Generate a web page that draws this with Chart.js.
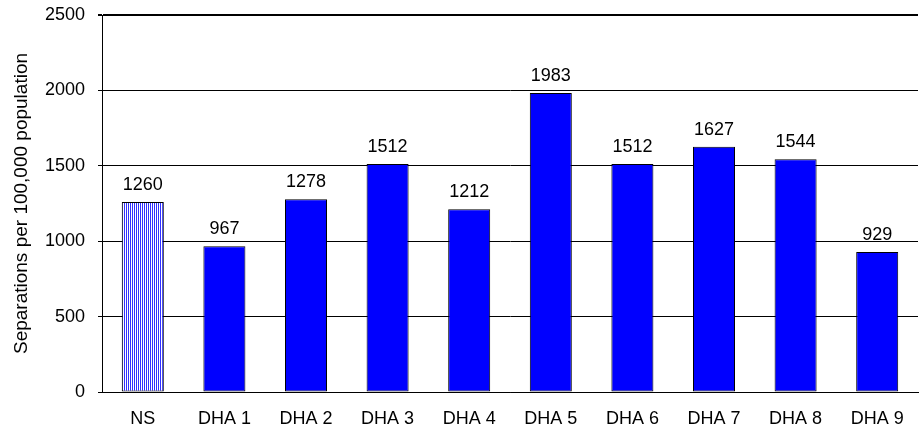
<!DOCTYPE html>
<html><head><meta charset="utf-8">
<script src="https://cdn.jsdelivr.net/npm/chart.js@4/dist/chart.umd.min.js"></script>
<style>html,body{margin:0;padding:0;background:#fff}#wrap{width:920px;height:435px}</style>
</head><body><div id="wrap"><canvas id="c" width="920" height="435"></canvas></div>
<script>
const categories = ['NS', 'DHA 1', 'DHA 2', 'DHA 3', 'DHA 4', 'DHA 5', 'DHA 6', 'DHA 7', 'DHA 8', 'DHA 9'];
const values = [1260, 967, 1278, 1512, 1212, 1983, 1512, 1627, 1544, 929];
const yTicks = [0, 500, 1000, 1500, 2000, 2500];
const yTitle = 'Separations per 100,000 population';

const FONT = '"Liberation Sans", Arial, sans-serif';
const canvas = document.getElementById('c');
const ctx = canvas.getContext('2d');

const pc = document.createElement('canvas');
pc.width = 2; pc.height = 2;
const pctx = pc.getContext('2d');
pctx.fillStyle = '#ffffff'; pctx.fillRect(0, 0, 2, 2);
pctx.fillStyle = '#3030ff'; pctx.fillRect(0, 0, 1, 2);
const nsPattern = ctx.createPattern(pc, 'repeat');

const labelPlugin = {
  id: 'valueLabels',
  afterDatasetsDraw(chart) {
    const c = chart.ctx;
    const meta = chart.getDatasetMeta(0);
    c.save();
    c.font = '18px ' + FONT;
    c.fillStyle = '#000';
    c.textAlign = 'center';
    c.textBaseline = 'alphabetic';
    meta.data.forEach((bar, i) => {
      c.fillText(String(values[i]), bar.x, bar.y - 12);
    });
    c.restore();
  }
};

new Chart(canvas, {
  type: 'bar',
  data: {
    labels: categories,
    datasets: [{
      data: values,
      backgroundColor: values.map((v, i) => i === 0 ? nsPattern : '#0000ff'),
      borderColor: '#000',
      borderWidth: 1,
      borderSkipped: false,
      categoryPercentage: 1,
      barPercentage: 0.515
    }]
  },
  options: {
    responsive: false,
    devicePixelRatio: 1,
    animation: false,
    layout: { padding: { top: 15, right: 2, left: 0, bottom: 0 } },
    plugins: { legend: { display: false }, tooltip: { enabled: false } },
    scales: {
      x: {
        grid: { display: false },
        border: { display: true, color: '#000', width: 1 },
        ticks: { color: '#000', font: { family: FONT, size: 18 }, padding: 8, maxRotation: 0 },
        afterFit(scale) { scale.height = 43; scale.paddingLeft = 0; scale.paddingRight = 0; }
      },
      y: {
        min: 0, max: 2500,
        afterBuildTicks(scale) { scale.ticks = yTicks.map(v => ({ value: v })); },
        grid: {
          color: '#000',
          lineWidth: (c) => (c.tick && c.tick.value === 2500) ? 2 : 1,
          tickLength: 4,
          drawTicks: true
        },
        border: { display: true, color: '#000', width: 1 },
        ticks: { color: '#000', font: { family: FONT, size: 18 }, padding: 13, callback: (v) => String(v) },
        title: { display: true, text: yTitle, color: '#000', font: { family: FONT, size: 19 }, padding: { top: 10, bottom: 0 } },
        afterFit(scale) { scale.width = 102; scale.paddingTop = 0; scale.paddingBottom = 0; }
      }
    }
  },
  plugins: [labelPlugin]
});
</script>
</body></html>
